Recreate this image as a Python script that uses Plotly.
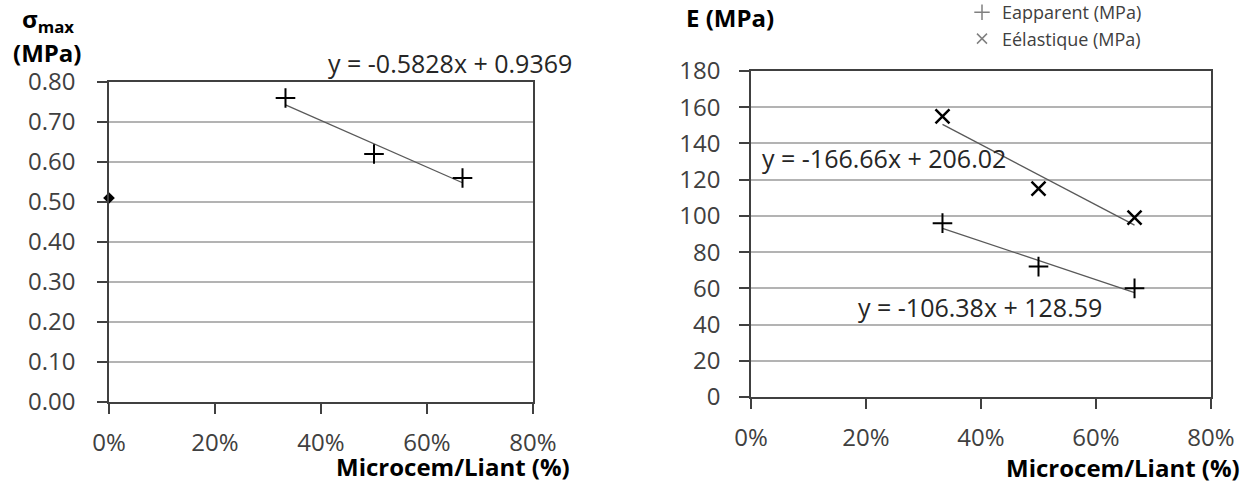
import plotly.graph_objects as go

# ---- data ----
ratio = [0.333, 0.5, 0.667]            # Microcem/Liant
ref_ratio = [0.0]
ref_sigma = [0.51]
sigma_max = [0.76, 0.62, 0.56]
e_apparent = [96, 72, 60]
e_elastique = [155, 115, 99]

sigma_fit = (-0.5828, 0.9369)
e_app_fit = (-106.38, 128.59)
e_ela_fit = (-166.66, 206.02)

x_ticks = [0, 0.2, 0.4, 0.6, 0.8]

FONT = "Open Sans"
TICK_COL = "#404040"
AX_COL = "#404040"
GRID_COL = "#b3b3b3"
TREND_COL = "#595959"


def fit_line(params, xs):
    a, b = params
    x0, x1 = min(xs), max(xs)
    return [x0, x1], [a * x0 + b, a * x1 + b]


fig = go.Figure()

# ---- left chart ----
fig.add_trace(go.Scatter(x=ref_ratio, y=ref_sigma, mode="markers",
                         marker=dict(symbol="diamond", size=9, color="black"),
                         cliponaxis=False,
                         showlegend=False, xaxis="x", yaxis="y"))
tx, ty = fit_line(sigma_fit, ratio)
fig.add_trace(go.Scatter(x=tx, y=ty, mode="lines", line=dict(color=TREND_COL, width=1.3),
                         showlegend=False, xaxis="x", yaxis="y"))
fig.add_trace(go.Scatter(x=ratio, y=sigma_max, mode="markers",
                         marker=dict(symbol="cross-thin", size=14,
                                     line=dict(color="black", width=2)),
                         showlegend=False, xaxis="x", yaxis="y"))

# ---- right chart ----
tx, ty = fit_line(e_ela_fit, ratio)
fig.add_trace(go.Scatter(x=tx, y=ty, mode="lines", line=dict(color=TREND_COL, width=1.3),
                         showlegend=False, xaxis="x2", yaxis="y2"))
tx, ty = fit_line(e_app_fit, ratio)
fig.add_trace(go.Scatter(x=tx, y=ty, mode="lines", line=dict(color=TREND_COL, width=1.3),
                         showlegend=False, xaxis="x2", yaxis="y2"))
fig.add_trace(go.Scatter(x=ratio, y=e_elastique, mode="markers",
                         marker=dict(symbol="x-thin", size=14,
                                     line=dict(color="black", width=2.5)),
                         showlegend=False, xaxis="x2", yaxis="y2"))
fig.add_trace(go.Scatter(x=ratio, y=e_apparent, mode="markers",
                         marker=dict(symbol="cross-thin", size=14,
                                     line=dict(color="black", width=2)),
                         showlegend=False, xaxis="x2", yaxis="y2"))

# legend entries (grey symbols, as in the original)
fig.add_trace(go.Scatter(x=[None], y=[None], mode="markers", name="Eapparent (MPa)",
                         marker=dict(symbol="cross-thin", size=11,
                                     line=dict(color="#808080", width=1.5)),
                         xaxis="x2", yaxis="y2"))
fig.add_trace(go.Scatter(x=[None], y=[None], mode="markers", name="Eélastique (MPa)",
                         marker=dict(symbol="x-thin", size=10,
                                     line=dict(color="#808080", width=1.5)),
                         xaxis="x2", yaxis="y2"))

W, H = 1255, 483


def px_x(p):
    return p / W


def px_y(p):
    return 1 - p / H


common_x = dict(range=[0, 0.8], tickvals=x_ticks, tickformat=".0%",
                showline=True, linecolor=AX_COL, linewidth=1.5, mirror=True,
                ticks="outside", ticklen=10, tickcolor=AX_COL, tickwidth=1.5,
                showgrid=False, zeroline=False, automargin=False,
                tickfont=dict(family=FONT, size=24, color=TICK_COL),
                ticklabelstandoff=8)
common_y = dict(showline=True, linecolor=AX_COL, linewidth=1.5, mirror=True,
                ticks="outside", ticklen=10, tickcolor=AX_COL, tickwidth=1.5,
                showgrid=True, gridcolor=GRID_COL, gridwidth=2, zeroline=False,
                automargin=False,
                tickfont=dict(family=FONT, size=24, color=TICK_COL))

fig.update_layout(
    width=W, height=H,
    margin=dict(l=0, r=0, t=0, b=0, pad=0, autoexpand=False),
    paper_bgcolor="white", plot_bgcolor="white",
    font=dict(family=FONT, color=TICK_COL),
    xaxis=dict(domain=[px_x(109), px_x(533)], anchor="y", **common_x),
    yaxis=dict(domain=[px_y(402), px_y(82)], anchor="x", range=[0, 0.8], dtick=0.1,
               tickformat=".2f", ticklabelstandoff=17, **common_y),
    xaxis2=dict(domain=[px_x(751), px_x(1211)], anchor="y2", **common_x),
    yaxis2=dict(domain=[px_y(397), px_y(71)], anchor="x2", range=[0, 180], dtick=20,
                ticklabelstandoff=14, **common_y),
    showlegend=True,
    legend=dict(x=px_x(962), y=px_y(-6), xanchor="left", yanchor="top",
                bgcolor="rgba(0,0,0,0)", borderwidth=0,
                font=dict(family=FONT, size=18, color=TICK_COL),
                itemwidth=30, tracegroupgap=0),
)

ann = []
# equations
ann.append(dict(text="y = -0.5828x + 0.9369", x=px_x(450), y=px_y(63)))
ann.append(dict(text="y = -166.66x + 206.02", x=px_x(884), y=px_y(158)))
ann.append(dict(text="y = -106.38x + 128.59", x=px_x(980), y=px_y(307)))
for a in ann:
    a.update(xref="paper", yref="paper", showarrow=False, xanchor="center", yanchor="middle",
             font=dict(family=FONT, size=25, color="#262626"))

titles = [
    dict(text="<b>σ<sub>max</sub></b>", x=px_x(48), y=px_y(20)),
    dict(text="<b>(MPa)</b>", x=px_x(47), y=px_y(53)),
    dict(text="<b>E (MPa)</b>", x=px_x(730), y=px_y(18)),
]
for t in titles:
    t.update(xref="paper", yref="paper", showarrow=False, xanchor="center", yanchor="middle",
             font=dict(family=FONT, size=24, color="black"))
ann += titles

ax_titles = [
    dict(text="<b>Microcem/Liant (%)</b>", x=px_x(572), y=px_y(466)),
    dict(text="<b>Microcem/Liant (%)</b>", x=px_x(1242), y=px_y(467)),
]
for t in ax_titles:
    t.update(xref="paper", yref="paper", showarrow=False, xanchor="right", yanchor="middle",
             font=dict(family=FONT, size=24, color="black"))
ann += ax_titles

fig.update_layout(annotations=ann)

# remove the default page margin so the figure sits at the window origin
fig.write_html("out.html",
               config={"displayModeBar": False},
               post_script="document.body.style.margin='0';document.body.style.overflow='hidden';")
